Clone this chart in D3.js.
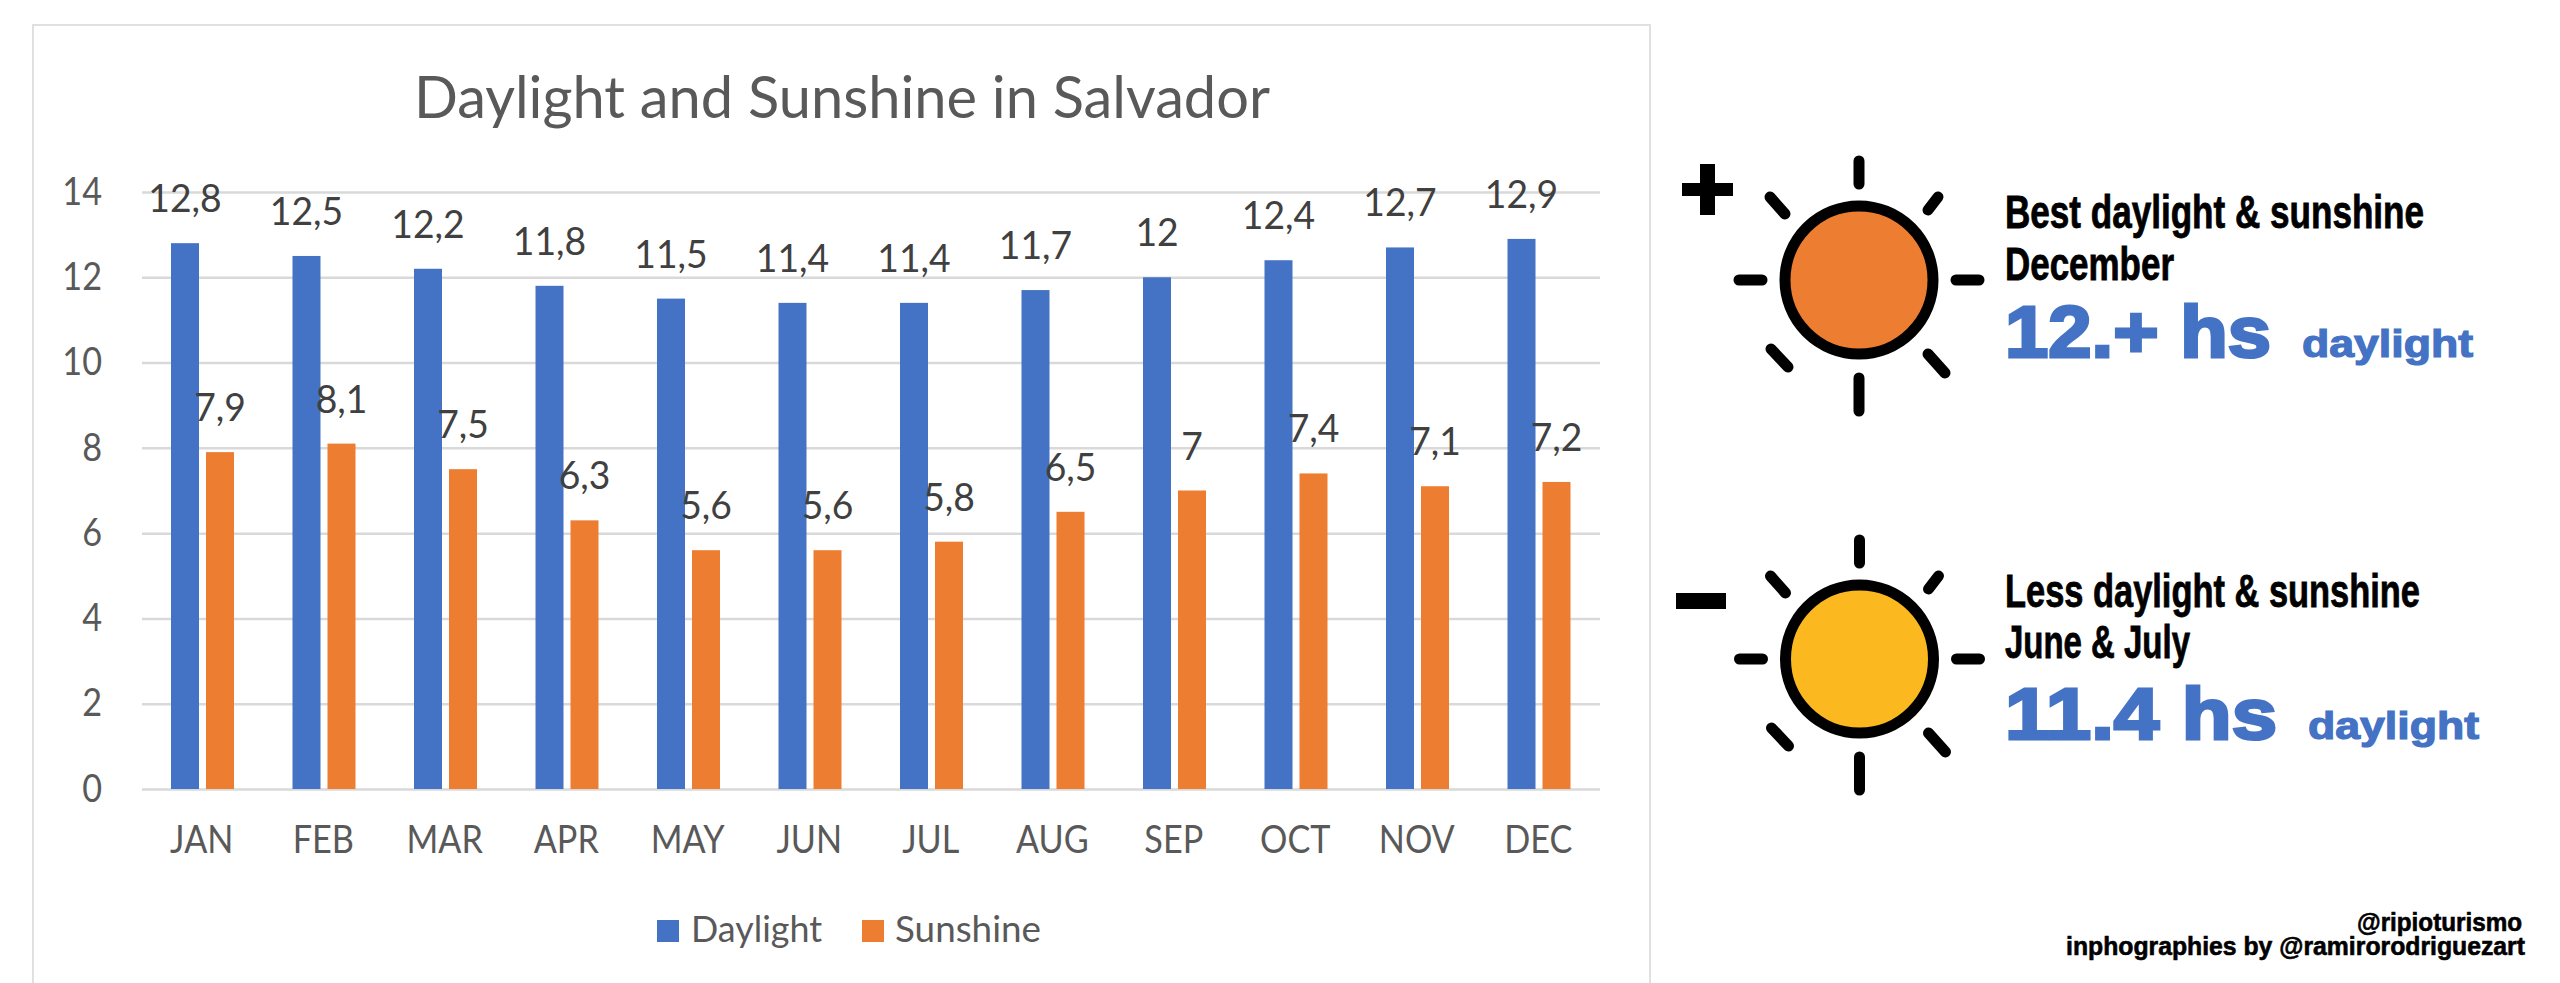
<!DOCTYPE html>
<html>
<head>
<meta charset="utf-8">
<script src="https://cdnjs.cloudflare.com/ajax/libs/d3/7.8.5/d3.min.js"></script>
<style>
html,body{margin:0;padding:0;background:#fff;overflow:hidden}
svg{display:block}
</style>
</head>
<body>
<svg id="chart" width="2560" height="983"></svg>
<script>
const months = ["JAN","FEB","MAR","APR","MAY","JUN","JUL","AUG","SEP","OCT","NOV","DEC"];
const daylight = [12.8,12.5,12.2,11.8,11.5,11.4,11.4,11.7,12,12.4,12.7,12.9];
const sunshine = [7.9,8.1,7.5,6.3,5.6,5.6,5.8,6.5,7,7.4,7.1,7.2];
const yTicks = [0,2,4,6,8,10,12,14];
const seriesNames = ["Daylight","Sunshine"];
const chartTitle = "Daylight and Sunshine in Salvador";

const BLUE="#4472C4", ORANGE="#ED7D31", YELLOW="#FBB81F", GREY="#595959", GRID="#d9d9d9";
const chartFont = "Lato, 'Open Sans', sans-serif";
const svg = d3.select("#chart");
const squeeze = (sel,f) => sel.each(function(){
  this.setAttribute("textLength", this.getComputedTextLength()*f);
  this.setAttribute("lengthAdjust","spacingAndGlyphs");
});

// chart frame
svg.append("rect").attr("x",33).attr("y",25).attr("width",1617).attr("height",1000)
  .attr("fill","#fff").attr("stroke","#e0e0e0").attr("stroke-width",2);

const x = d3.scaleBand().domain(months).range([142,1600]);
const y = d3.scaleLinear().domain([0,14]).range([789,192]);
const inner = d3.scaleBand().domain(seriesNames).range([29,92]).paddingInner(0.2);

// y axis with gridlines
const yAxis = d3.axisLeft(y).tickValues(yTicks).tickSize(-(1600-142)).tickPadding(40);
const yG = svg.append("g").attr("transform","translate(142,0)").call(yAxis);
yG.select(".domain").remove();
yG.selectAll("line").attr("stroke",GRID).attr("stroke-width",2.5);
yG.selectAll("text").attr("font-family",chartFont).attr("font-size",38).attr("fill",GREY).call(squeeze,0.9);

// x axis
const xAxis = d3.axisBottom(x).tickSize(0).tickPadding(37);
const xG = svg.append("g").attr("transform","translate(-1,789)").call(xAxis);
xG.select(".domain").remove();
xG.selectAll("text").attr("font-family",chartFont).attr("font-size",38).attr("fill",GREY).call(squeeze,0.9);

// bars & labels
const series = [[seriesNames[0],daylight,BLUE],[seriesNames[1],sunshine,ORANGE]];
const fmt = v => String(v).replace(".",",");
series.forEach(([name,vals,col])=>{
  svg.append("g").selectAll("rect").data(vals).join("rect")
    .attr("x",(d,i)=>x(months[i])+inner(name))
    .attr("width",inner.bandwidth())
    .attr("y",d=>y(d))
    .attr("height",d=>y(0)-y(d))
    .attr("fill",col);
});
series.forEach(([name,vals])=>{
  svg.append("g").selectAll("text").data(vals).join("text")
    .attr("x",(d,i)=>x(months[i])+inner(name)+inner.bandwidth()/2)
    .attr("y",d=>y(d)-31)
    .attr("text-anchor","middle")
    .attr("font-family",chartFont).attr("font-size",38).attr("fill","#404040")
    .text(fmt).call(squeeze,0.98);
});

function label(t,px,py,len,size,family,weight,fill,extra){
  const s = svg.append("text").attr("x",px).attr("y",py).attr("font-family",family)
    .attr("font-size",size).attr("font-weight",weight).attr("fill",fill).text(t);
  if(len) s.attr("textLength",len).attr("lengthAdjust","spacingAndGlyphs");
  if(extra) s.attr("stroke",fill).attr("stroke-width",extra);
  return s;
}
// title
label(chartTitle,414,118,856,59,chartFont,400,GREY);
// legend
svg.append("rect").attr("x",657).attr("y",920).attr("width",22).attr("height",22).attr("fill",BLUE);
label(seriesNames[0],691,942,131,37,chartFont,400,GREY);
svg.append("rect").attr("x",862).attr("y",920).attr("width",22).attr("height",22).attr("fill",ORANGE);
label(seriesNames[1],895,942,146,37,chartFont,400,GREY);

// suns (ray ends are inset by the round cap radius)
const rays=[[0,-119,0,-96],[0,98,0,131],[-120,0,-97,0],[97,0,120,0],[-89,-83,-74,-66],[79,-83,69,-70],[-71,87,-88,69],[69,74,86,93]];
function sun(cx,cy,fill){
  const g=svg.append("g").attr("transform",`translate(${cx},${cy})`);
  g.append("circle").attr("r",74).attr("fill",fill).attr("stroke","#000").attr("stroke-width",11);
  g.selectAll("line").data(rays).join("line")
    .attr("x1",d=>d[0]).attr("y1",d=>d[1]).attr("x2",d=>d[2]).attr("y2",d=>d[3])
    .attr("stroke","#000").attr("stroke-width",11).attr("stroke-linecap","round");
}
sun(1859,280,ORANGE);
sun(1859.5,659,YELLOW);
// plus / minus
svg.append("rect").attr("x",1682).attr("y",183).attr("width",51).attr("height",13).attr("fill","#000");
svg.append("rect").attr("x",1700).attr("y",164).attr("width",15).attr("height",51).attr("fill","#000");
svg.append("rect").attr("x",1676).attr("y",593).attr("width",50).attr("height",16).attr("fill","#000");

// annotation text
const narrow="'Liberation Sans Narrow','Liberation Sans',sans-serif", bold="'Liberation Sans',Arial,sans-serif";
label("Best daylight & sunshine",2005,228,419,46,narrow,700,"#000",0.8);
label("December",2005,280,169,46,narrow,700,"#000",0.8);
label("12.+ hs",2005,357,266,72,bold,700,BLUE,3);
label("daylight",2302,357,171,38,bold,700,BLUE,1.2);
label("Less daylight & sunshine",2005,607,415,46,narrow,700,"#000",0.8);
label("June & July",2005,658,185,46,narrow,700,"#000",0.8);
label("11.4 hs",2005,739,272,72,bold,700,BLUE,3);
label("daylight",2308,739,171,38,bold,700,BLUE,1.2);
label("@ripioturismo",2357,931,165,25,bold,700,"#000",0.6);
label("inphographies by @ramirorodriguezart",2066,955,459,25,bold,700,"#000",0.6);
</script>
</body>
</html>
